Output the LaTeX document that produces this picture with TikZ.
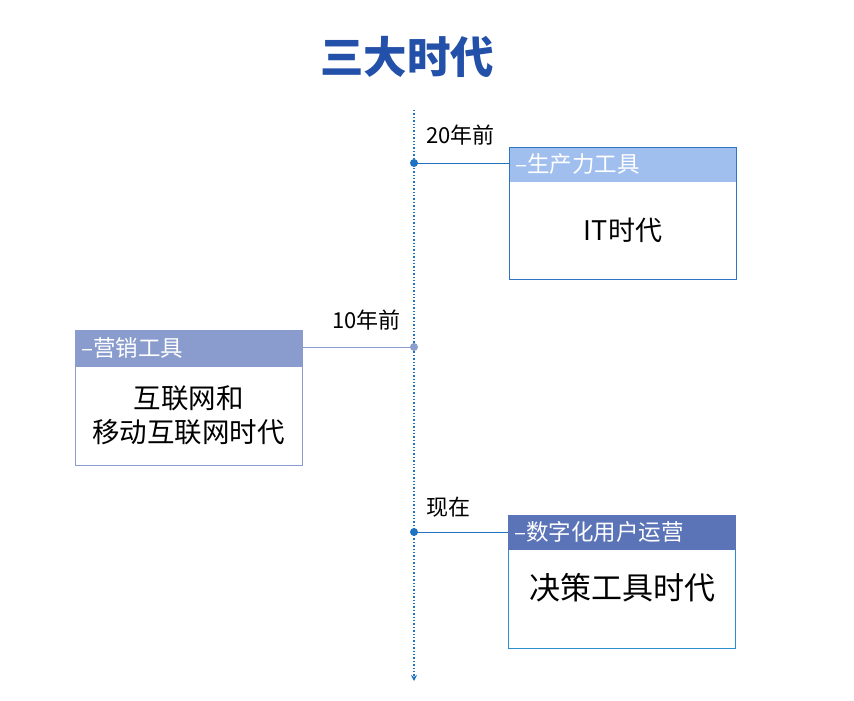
\documentclass[tikz,border=0pt]{standalone}
\usepackage{fontspec}
\setmainfont{Noto Sans CJK SC}
\usetikzlibrary{arrows.meta}
\definecolor{tline}{HTML}{1F73C0}
\definecolor{titleblue}{HTML}{2350A8}
\definecolor{hdrA}{HTML}{A0BFEE}
\definecolor{hdrB}{HTML}{8A9BCD}
\definecolor{hdrC}{HTML}{5B74B8}
\definecolor{brdA}{HTML}{2E75C8}
\definecolor{brdC}{HTML}{2E8FD0}
\definecolor{dotB}{HTML}{8A9FD0}
\tikzset{
  hdr/.style={draw=#1, fill=#1, anchor=north west, minimum width=227pt, minimum height=34pt, inner sep=0pt, text=white, font=\fontsize{22.5}{24}\selectfont, align=left, text width=223pt},
  bodybox/.style={draw=#1, line width=0.9pt, anchor=north west, minimum width=227pt, inner sep=0pt},
  lbl/.style={font=\fontsize{22}{24}\selectfont, inner sep=0pt},
  big/.style={font=\fontsize{27.5}{34}\selectfont, align=center, inner sep=0pt},
  tick/.style={circle, fill=#1, inner sep=0pt, minimum size=8pt},
}
\begin{document}
\begin{tikzpicture}[x=1pt,y=-1pt]
\useasboundingbox (0,0) rectangle (854,701);
\fill[white] (0,0) rectangle (854,701);
% title
\node[text=titleblue, font=\fontsize{43.5}{46}\selectfont\bfseries, inner sep=0pt] (title) at (407,57) {三大时代};
% timeline
\coordinate (ttop) at (414,110);
\coordinate (tbot) at (414,681);
\draw[tline, line width=1.4pt, dotted, -{Stealth[length=6pt,width=6pt]}] (ttop) -- (tbot);
% box 1
\node[bodybox=brdA, minimum height=132pt] (b1) at (509,147) {};
\node[hdr=hdrA] (h1) at (509,147) {\hspace*{4pt}–生产力工具};
\draw[brdA, line width=0.9pt] (b1.north west) rectangle (b1.south east);
\node[big, font=\fontsize{27}{34}\selectfont] (t1) at (623,230) {IT时代};
\node[tick=tline] (d1) at (414,163) {};
\draw[tline, line width=1pt] (d1.center) -- (h1.west |- d1.center);
\node[lbl, anchor=west] (l1) at (426,135) {20年前};
% box 2
\node[bodybox=hdrB, minimum height=135pt] (b2) at (75,330) {};
\node[hdr=hdrB, minimum height=36pt] (h2) at (75,330) {\hspace*{4pt}–营销工具};
\draw[hdrB, line width=0.9pt] (b2.north west) rectangle (b2.south east);
\node[big] (t2) at (188.5,415) {互联网和\\移动互联网时代};
\node[tick=dotB] (d2) at (414,347) {};
\draw[hdrB, line width=1pt] (d2.center) -- (h2.east |- d2.center);
\node[lbl, anchor=east] (l2) at (401,320) {10年前};
% box 3
\node[bodybox=brdC, minimum height=133pt] (b3) at (508,515) {};
\node[hdr=hdrC] (h3) at (508,515) {\hspace*{4pt}–数字化用户运营};
\draw[brdC, line width=0.9pt] (b3.north west) rectangle (b3.south east);
\draw[hdrC, line width=0.9pt] (h3.north west) rectangle (h3.south east);
\node[big, font=\fontsize{31}{34}\selectfont] (t3) at (622,588) {决策工具时代};
\node[tick=tline] (d3) at (414,532) {};
\draw[tline, line width=1pt] (d3.center) -- (h3.west |- d3.center);
\node[lbl, anchor=west] (l3) at (426,507) {现在};
\end{tikzpicture}
\end{document}
